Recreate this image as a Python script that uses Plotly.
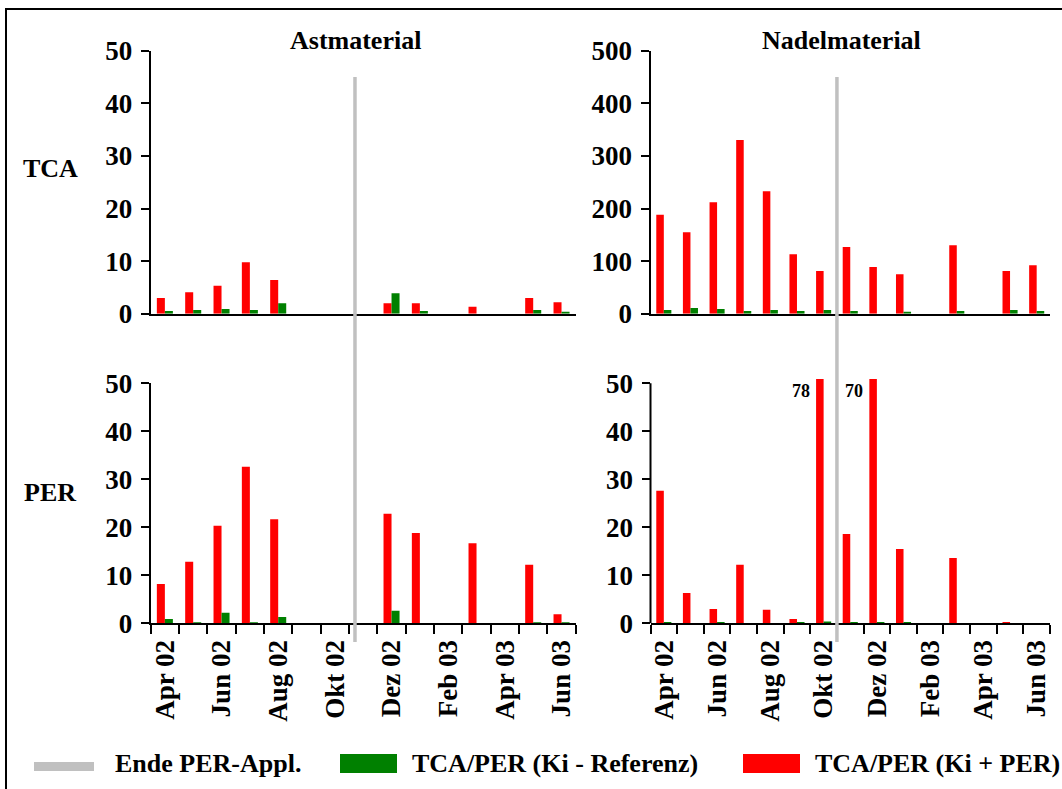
import plotly.graph_objects as go

# ---------------- data ----------------
months = ["Apr 02", "Mai 02", "Jun 02", "Jul 02", "Aug 02", "Sep 02", "Okt 02", "Nov 02",
          "Dez 02", "Jan 03", "Feb 03", "Mär 03", "Apr 03", "Mai 03", "Jun 03"]
tick_labels = ["Apr 02", "Jun 02", "Aug 02", "Okt 02", "Dez 02", "Feb 03", "Apr 03", "Jun 03"]
tick_positions = [0, 2, 4, 6, 8, 10, 12, 14]

# Astmaterial TCA
ast_tca_plus = [3.0, 4.1, 5.3, 9.8, 6.4, None, None, None, 2.0, 2.0, None, 1.3, None, 3.0, 2.2]
ast_tca_ref = [0.5, 0.7, 0.9, 0.7, 2.0, None, None, None, 3.9, 0.5, None, None, None, 0.7, 0.3]
# Nadelmaterial TCA
nad_tca_plus = [188, 155, 212, 330, 233, 113, 81, 127, 89, 75, None, 130, None, 81, 92]
nad_tca_ref = [7, 11, 9, 5, 7, 5, 7, 5, None, 3, None, 5, None, 7, 5]
# Astmaterial PER
ast_per_plus = [8.2, 12.8, 20.3, 32.6, 21.7, None, None, None, 22.8, 18.8, None, 16.7, None, 12.2, 1.9]
ast_per_ref = [0.9, 0.2, 2.2, 0.2, 1.3, None, None, None, 2.6, None, None, None, None, 0.2, 0.2]
# Nadelmaterial PER
nad_per_plus = [27.6, 6.3, 3.0, 12.2, 2.8, 0.9, 78, 18.6, 70, 15.5, None, 13.6, None, 0.2, None]
nad_per_ref = [0.2, None, 0.2, None, None, 0.2, 0.4, 0.2, 0.2, 0.2, None, None, None, None, None]

# positions of "Ende PER-Appl." (in category units)
end_appl_ast = 6.71
end_appl_nad = 6.5

RED = "#FF0000"
GREEN = "#008000"
GREY = "#C0C0C0"
FONT = "Liberation Serif, 'Times New Roman', Times, serif"

W, H = 1062, 789
def px(x):
    return x / W
def py(y):
    return 1 - y / H

x_idx = list(range(len(months)))

fig = go.Figure()
panels = [
    ("x", "y", ast_tca_plus, ast_tca_ref),
    ("x2", "y2", nad_tca_plus, nad_tca_ref),
    ("x3", "y3", ast_per_plus, ast_per_ref),
    ("x4", "y4", nad_per_plus, nad_per_ref),
]
for xa, ya, plus, ref in panels:
    fig.add_trace(go.Bar(x=x_idx, y=plus, marker=dict(color=RED, line=dict(width=0)),
                         xaxis=xa, yaxis=ya, showlegend=False, name="TCA/PER (Ki + PER)"))
    fig.add_trace(go.Bar(x=x_idx, y=ref, marker=dict(color=GREEN, line=dict(width=0)),
                         xaxis=xa, yaxis=ya, showlegend=False, name="TCA/PER (Ki - Referenz)"))

ytickfont = dict(family=FONT, size=27, color="black", weight="bold")
xtickfont = dict(family=FONT, size=27, color="black", weight="bold")

xdom_l = [px(150.7), px(575.7)]
xdom_r = [px(650.5), px(1050)]
ydom_t = [py(313.7), py(50.7)]
ydom_bl = [py(623.3), py(383.3)]
ydom_br = [py(623.3), py(379.0)]

def xaxis_top(domain, anchor):
    return dict(domain=domain, anchor=anchor, range=[-0.5, 14.5], showline=True, linewidth=2,
                linecolor="black", ticks="", showticklabels=False, showgrid=False,
                zeroline=False, automargin=False, fixedrange=True)

def xaxis_bottom(domain, anchor):
    return dict(domain=domain, anchor=anchor, range=[-0.5, 14.5], showline=True, linewidth=2,
                linecolor="black", tickmode="array", tickvals=tick_positions,
                ticktext=tick_labels, ticks="", tickangle=-90, tickfont=xtickfont,
                showgrid=False, zeroline=False, automargin=False, ticklabelstandoff=4,
                minor=dict(tickmode="array", tickvals=[i - 0.5 for i in range(len(months) + 1)],
                           ticks="outside", ticklen=9, tickwidth=2, tickcolor="black",
                           showgrid=False))

def yaxis(domain, anchor, rng, dtick, showline=True):
    return dict(domain=domain, anchor=anchor, range=rng, tickmode="linear", tick0=0, dtick=dtick,
                showline=showline, linewidth=2, linecolor="black", ticks="outside", ticklen=8,
                tickwidth=2, tickcolor="black", tickfont=ytickfont, showgrid=False,
                zeroline=False, automargin=False, ticklabelstandoff=3)

fig.update_layout(
    width=W, height=H,
    margin=dict(l=0, r=0, t=0, b=0),
    paper_bgcolor="white", plot_bgcolor="rgba(0,0,0,0)",
    barmode="group", bargap=0.434, bargroupgap=0,
    xaxis=xaxis_top(xdom_l, "y"),
    xaxis2=xaxis_top(xdom_r, "y2"),
    xaxis3=xaxis_bottom(xdom_l, "y3"),
    xaxis4=xaxis_bottom(xdom_r, "y4"),
    yaxis=yaxis(ydom_t, "x", [0, 50], 10),
    yaxis2=yaxis(ydom_t, "x2", [0, 500], 100),
    yaxis3=yaxis(ydom_bl, "x3", [0, 50], 10),
    yaxis4=dict(yaxis(ydom_br, "x4", [0, 50.9], 10, showline=False), tickvals=[0, 10, 20, 30, 40, 50], tickmode="array"),
    font=dict(family=FONT, color="black"),
)

shapes = []
# outer frame
shapes.append(dict(type="rect", xref="paper", yref="paper", x0=px(6), x1=px(1075), y0=py(805), y1=py(9),
                   line=dict(color="black", width=2), fillcolor="rgba(0,0,0,0)", layer="below"))
# y axis line for clipped panel
shapes.append(dict(type="line", xref="x4 domain", yref="y4", x0=0, x1=0, y0=0, y1=50,
                   line=dict(color="black", width=2)))
# Ende PER-Appl. lines
shapes.append(dict(type="line", xref="x", yref="paper", x0=end_appl_ast, x1=end_appl_ast,
                   y0=py(642), y1=py(77), line=dict(color=GREY, width=3.5), layer="above"))
shapes.append(dict(type="line", xref="x2", yref="paper", x0=end_appl_nad, x1=end_appl_nad,
                   y0=py(642), y1=py(77), line=dict(color=GREY, width=3.5), layer="above"))
# legend swatches
shapes.append(dict(type="line", xref="paper", yref="paper", x0=px(34), x1=px(94), y0=py(766.5), y1=py(766.5),
                   line=dict(color=GREY, width=9)))
shapes.append(dict(type="rect", xref="paper", yref="paper", x0=px(340), x1=px(397), y0=py(773), y1=py(754),
                   line=dict(width=0), fillcolor=GREEN))
shapes.append(dict(type="rect", xref="paper", yref="paper", x0=px(743), x1=px(800), y0=py(773), y1=py(754),
                   line=dict(width=0), fillcolor=RED))
fig.update_layout(shapes=shapes)

bold26 = dict(family=FONT, size=26, color="black", weight="bold")
ann = []
ann.append(dict(text="Astmaterial", xref="paper", yref="paper", x=px(355.5), y=py(40), xanchor="center",
                yanchor="middle", showarrow=False, font=bold26))
ann.append(dict(text="Nadelmaterial", xref="paper", yref="paper", x=px(841), y=py(40), xanchor="center",
                yanchor="middle", showarrow=False, font=bold26))
ann.append(dict(text="TCA", xref="paper", yref="paper", x=px(50), y=py(168), xanchor="center",
                yanchor="middle", showarrow=False, font=bold26))
ann.append(dict(text="PER", xref="paper", yref="paper", x=px(50), y=py(492), xanchor="center",
                yanchor="middle", showarrow=False, font=bold26))
for txt, x in [("Ende PER-Appl.", 113), ("TCA/PER (Ki - Referenz)", 410), ("TCA/PER (Ki + PER)", 813)]:
    ann.append(dict(text=txt, xref="paper", yref="paper", x=px(x), y=py(763), xanchor="left",
                    yanchor="middle", showarrow=False, font=bold26))
# values of clipped bars
for i, v in enumerate(nad_per_plus):
    if v is not None and v > 50.9:
        ann.append(dict(text=str(int(v)), xref="x4", yref="y4", x=i, y=48.5, xanchor="right",
                        yanchor="middle", xshift=-12, showarrow=False,
                        font=dict(family=FONT, size=18, color="black", weight="bold")))
fig.update_layout(annotations=ann)

fig.write_html("out.html")
